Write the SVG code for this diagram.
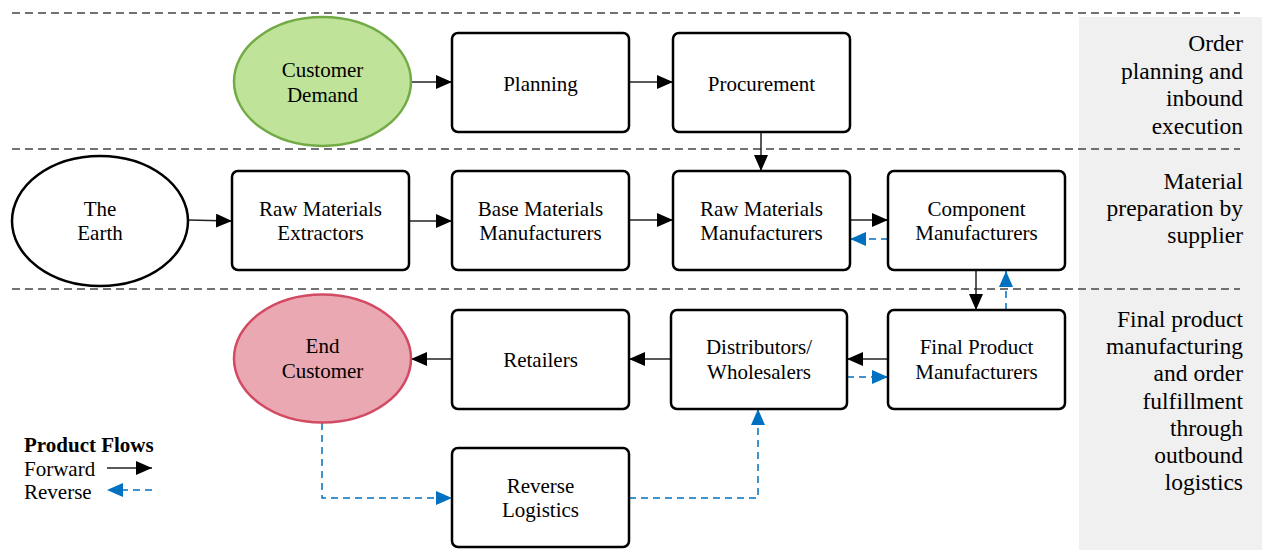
<svg xmlns="http://www.w3.org/2000/svg" width="1262" height="550" viewBox="0 0 1262 550">
<defs>
<marker id="ab" viewBox="0 0 16 14" refX="16" refY="7" markerWidth="16" markerHeight="14" markerUnits="userSpaceOnUse" orient="auto"><path d="M0,0 L16,7 L0,14 Z" fill="#000"/></marker>
<marker id="ar" viewBox="0 0 16 14" refX="16" refY="7" markerWidth="16" markerHeight="14" markerUnits="userSpaceOnUse" orient="auto"><path d="M0,0 L16,7 L0,14 Z" fill="#0070c0"/></marker>
<style>
text{font-family:'Liberation Serif','Tinos','Times New Roman','DejaVu Serif',serif;font-size:21px;fill:#000}
.c{text-anchor:middle}
.p{text-anchor:end;font-size:23.5px}
.box{fill:#fff;stroke:#000;stroke-width:2.5}
.sep{stroke:#444;stroke-width:1.6;stroke-dasharray:8,5;fill:none}
.fw{stroke:#222;stroke-width:1.5;fill:none;marker-end:url(#ab)}
.rv{stroke:#0070c0;stroke-width:1.5;stroke-dasharray:7,5;fill:none;marker-end:url(#ar)}
</style>
</defs>
<rect x="0" y="0" width="1262" height="550" fill="#fff"/>
<rect x="1079" y="17" width="183" height="533" fill="#f0f0f0"/>
<g id="separators">
<line class="sep" x1="12" y1="13" x2="1240" y2="13"/>
<line class="sep" x1="12" y1="149" x2="1240" y2="149"/>
<line class="sep" x1="12" y1="289" x2="1240" y2="289"/>
</g>
<g id="lane-labels" font-family="Liberation Serif, serif">
<text class="p" x="1243" y="51">Order</text>
<text class="p" x="1243" y="78.5">planning and</text>
<text class="p" x="1243" y="106">inbound</text>
<text class="p" x="1243" y="133.5">execution</text>
<text class="p" x="1243" y="189">Material</text>
<text class="p" x="1243" y="216">preparation by</text>
<text class="p" x="1243" y="243">supplier</text>
<text class="p" x="1243" y="327">Final product</text>
<text class="p" x="1243" y="354.2">manufacturing</text>
<text class="p" x="1243" y="381.4">and order</text>
<text class="p" x="1243" y="408.6">fulfillment</text>
<text class="p" x="1243" y="435.8">through</text>
<text class="p" x="1243" y="463">outbound</text>
<text class="p" x="1243" y="490">logistics</text>
</g>
<g id="connectors">
<line class="fw" x1="411" y1="82" x2="452" y2="82"/>
<line class="fw" x1="629" y1="82" x2="673" y2="82"/>
<line class="fw" x1="761" y1="132" x2="761" y2="171"/>
<line class="fw" x1="188" y1="220" x2="232" y2="221"/>
<line class="fw" x1="409" y1="221" x2="452" y2="221"/>
<line class="fw" x1="629" y1="220" x2="673" y2="220"/>
<line class="fw" x1="850" y1="220" x2="888" y2="220"/>
<line class="rv" x1="888" y1="239" x2="850" y2="239"/>
<line class="fw" x1="976" y1="271" x2="976" y2="310"/>
<line class="rv" x1="1006" y1="310" x2="1006" y2="271"/>
<line class="fw" x1="888" y1="359" x2="847" y2="359"/>
<line class="rv" x1="847" y1="377" x2="888" y2="377"/>
<line class="fw" x1="671" y1="359" x2="629" y2="359"/>
<line class="fw" x1="452" y1="359" x2="411" y2="359"/>
<path class="rv" d="M322,423 V498 H452"/>
<path class="rv" d="M629,498 H758 V409"/>
</g>
<g id="customer-demand">
<ellipse cx="322.5" cy="81.5" rx="88.5" ry="64.5" fill="#c0e39a" stroke="#72ab46" stroke-width="2.5"/>
<text class="c" x="322.5" y="77">Customer</text>
<text class="c" x="322.5" y="101.5">Demand</text>
</g>
<g id="planning">
<rect class="box" x="452" y="33" width="177" height="99" rx="6"/>
<text class="c" x="540.5" y="90.5">Planning</text>
</g>
<g id="procurement">
<rect class="box" x="673" y="33" width="177" height="99" rx="6"/>
<text class="c" x="761.5" y="90.5">Procurement</text>
</g>
<g id="the-earth">
<ellipse cx="100" cy="221" rx="88" ry="65" fill="#fff" stroke="#000" stroke-width="2.5"/>
<text class="c" x="100" y="215.5">The</text>
<text class="c" x="100" y="240">Earth</text>
</g>
<g id="raw-materials-extractors">
<rect class="box" x="232" y="171" width="177" height="99" rx="6"/>
<text class="c" x="320.5" y="215.5">Raw Materials</text>
<text class="c" x="320.5" y="240">Extractors</text>
</g>
<g id="base-materials-manufacturers">
<rect class="box" x="452" y="171" width="177" height="99" rx="6"/>
<text class="c" x="540.5" y="215.5">Base Materials</text>
<text class="c" x="540.5" y="240">Manufacturers</text>
</g>
<g id="raw-materials-manufacturers">
<rect class="box" x="673" y="171" width="177" height="99" rx="6"/>
<text class="c" x="761.5" y="215.5">Raw Materials</text>
<text class="c" x="761.5" y="240">Manufacturers</text>
</g>
<g id="component-manufacturers">
<rect class="box" x="888" y="171" width="177" height="99" rx="6"/>
<text class="c" x="976.5" y="215.5">Component</text>
<text class="c" x="976.5" y="240">Manufacturers</text>
</g>
<g id="final-product-manufacturers">
<rect class="box" x="888" y="310" width="177" height="99" rx="6"/>
<text class="c" x="976.5" y="354">Final Product</text>
<text class="c" x="976.5" y="378.5">Manufacturers</text>
</g>
<g id="distributors-wholesalers">
<rect class="box" x="671" y="310" width="176" height="99" rx="6"/>
<text class="c" x="759" y="354">Distributors/</text>
<text class="c" x="759" y="378.5">Wholesalers</text>
</g>
<g id="retailers">
<rect class="box" x="452" y="310" width="177" height="99" rx="6"/>
<text class="c" x="540.5" y="367">Retailers</text>
</g>
<g id="end-customer">
<ellipse cx="322.5" cy="358.5" rx="88.5" ry="64" fill="#eaa8b2" stroke="#d24b63" stroke-width="2.5"/>
<text class="c" x="322.5" y="353">End</text>
<text class="c" x="322.5" y="378">Customer</text>
</g>
<g id="reverse-logistics">
<rect class="box" x="452" y="448" width="177" height="99" rx="6"/>
<text class="c" x="540.5" y="492.5">Reverse</text>
<text class="c" x="540.5" y="517">Logistics</text>
</g>
<g id="legend">
<text x="24" y="451.5" font-weight="bold">Product Flows</text>
<text x="24" y="476">Forward</text>
<text x="24" y="499">Reverse</text>
<line class="fw" x1="107" y1="468" x2="152" y2="468"/>
<line class="rv" x1="152" y1="490" x2="107" y2="490"/>
</g>
</svg>
